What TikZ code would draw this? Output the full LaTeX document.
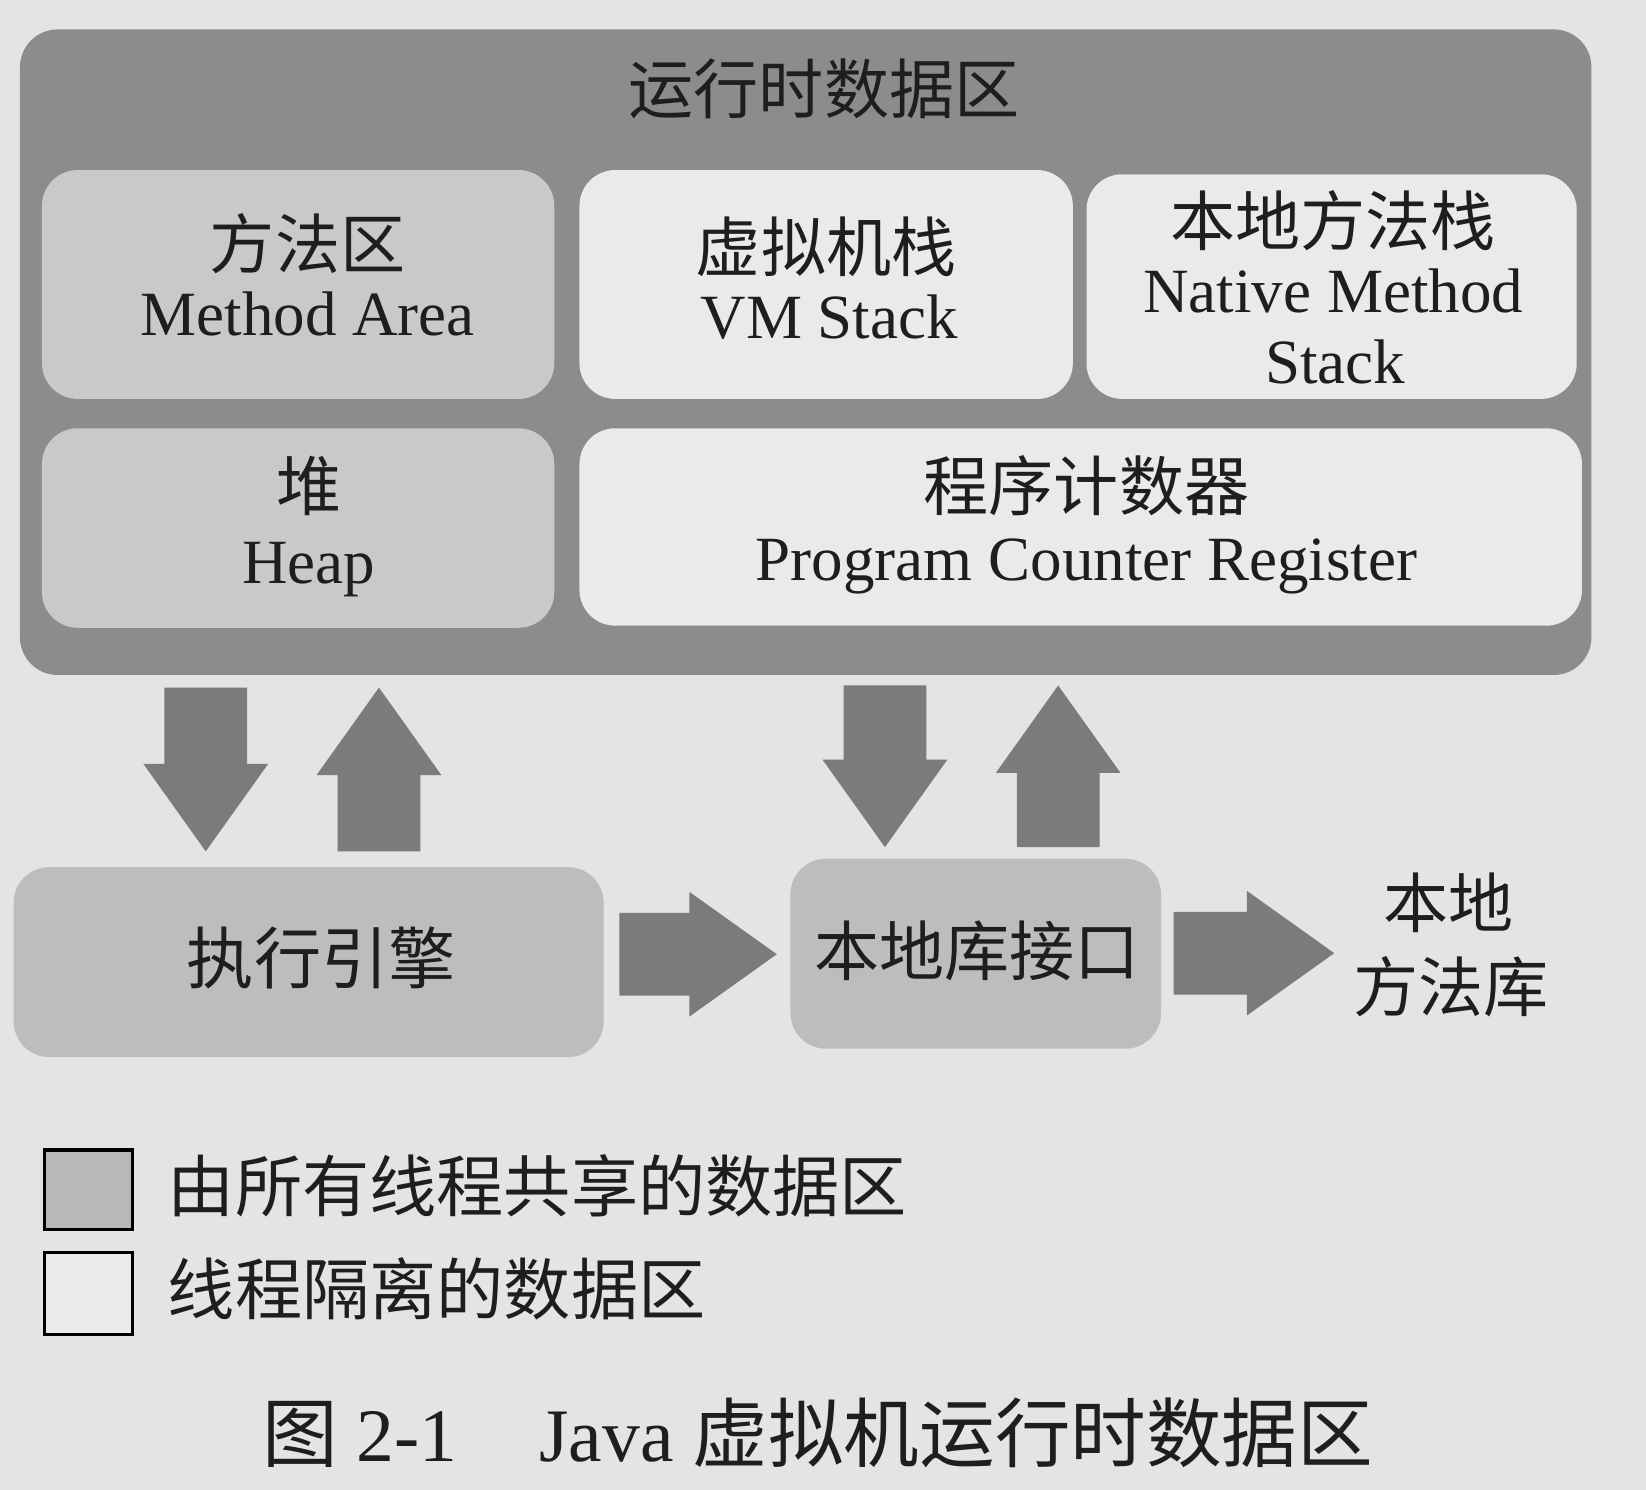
\documentclass[tikz,border=0pt]{standalone}
\usepackage{fontspec}
\setmainfont{Liberation Serif}
\newfontfamily\cjk{Noto Sans CJK SC}
\usetikzlibrary{shapes.arrows}
\definecolor{paper}{HTML}{E4E4E2}
\definecolor{outerc}{HTML}{8C8C8C}
\definecolor{sharedc}{HTML}{C9C9C9}
\definecolor{privc}{HTML}{EAEAE9}
\definecolor{enginec}{HTML}{BDBDBD}
\definecolor{arrowc}{HTML}{7B7B7B}
\definecolor{legendc}{HTML}{B8B8B8}
\definecolor{inkc}{HTML}{1E1E1E}
\begin{document}
\begin{tikzpicture}[x=0.5pt,y=-0.5pt,
  box/.style={rectangle, rounded corners=17pt, inner sep=0pt, outer sep=0pt, draw=none},
  legbox/.style={rectangle, inner sep=0pt, outer sep=0pt, draw=black, line width=1.6pt, minimum width=42pt},
  txt/.style={inner sep=0pt, outer sep=0pt, text=inkc},
  en/.style={txt, font=\fontsize{30}{36}\selectfont},
  zh/.style={txt, font=\cjk\fontsize{31}{37}\selectfont},
  zhb/.style={txt, font=\cjk\fontsize{32}{38}\selectfont},
  blk/.style={single arrow, fill=arrowc, draw=none, inner xsep=0pt, inner ysep=19.5pt,
    outer sep=0pt, single arrow head extend=10pt, single arrow tip angle=71,
    single arrow head indent=0pt, minimum width=0pt, anchor=tip}]
\fill[paper] (0,0) rectangle (1568,1419);
\useasboundingbox (0,0) rectangle (1568,1419);

% runtime data area
\node[box, fill=outerc, rounded corners=18pt, minimum width=748.5pt, minimum height=307.5pt] (rda) at (767.5,335.5) {};
\node[zh, anchor=base] (rdat) at (785,108) {运行时数据区};

\node[box, fill=sharedc, minimum width=244pt, minimum height=109pt] (ma) at (284,271) {};
\node[box, fill=privc, minimum width=235pt, minimum height=109pt] (vms) at (787,271) {};
\node[box, fill=privc, minimum width=233.5pt, minimum height=107pt] (nms) at (1268.5,273) {};
\node[box, fill=sharedc, minimum width=244pt, minimum height=95pt] (heap) at (284,503) {};
\node[box, fill=privc, minimum width=477.5pt, minimum height=94pt] (pc) at (1029.5,502) {};

\node[zh, anchor=base] (mat1) at (293,256) {方法区};
\node[en, anchor=base] (mat2) at (293,320) {Method Area};
\node[zh, anchor=base] (vmt1) at (787,259) {虚拟机栈};
\node[en, anchor=base] (vmt2) at (790,322) {VM Stack};
\node[zh, anchor=base] (nmt1) at (1270,234) {本地方法栈};
\node[en, anchor=base] (nmt2) at (1270,298) {Native Method};
\node[en, anchor=base] (nmt3) at (1272,365) {Stack};
\node[zh, anchor=base] (ht1) at (294,486) {堆};
\node[en, anchor=base] (ht2) at (294,556) {Heap};
\node[zh, anchor=base] (pct1) at (1035,486) {程序计数器};
\node[en, anchor=base] (pct2) at (1035,553) {Program Counter Register};

% execution engine and native interface
\node[box, fill=enginec, minimum width=281pt, minimum height=90.5pt] (eng) at (294,916.5) {};
\node[zhb, anchor=base] (engt) at (306,937) {执行引擎};
\node[box, fill=enginec, minimum width=176.5pt, minimum height=90.5pt] (nif) at (929.5,908.5) {};
\node[zh, anchor=base] (nift) at (931,929) {本地库接口};
\node[zh, anchor=base] (lib1) at (1380,884) {本地};
\node[zh, anchor=base] (lib2) at (1382,964) {方法库};

% block arrows (placed by their tips)
\node[blk, minimum height=78pt, rotate=-90] (a1) at (196,811) {};
\node[blk, minimum height=78pt, rotate=90] (a2) at (361,655) {};
\node[blk, minimum height=77pt, rotate=-90] (a3) at (843,807) {};
\node[blk, minimum height=77pt, rotate=90] (a4) at (1008,653) {};
\node[blk, minimum height=75pt] (a5) at (740,909) {};
\node[blk, minimum height=76.5pt] (a6) at (1271,908) {};

% legend
\node[legbox, fill=legendc, minimum height=38pt] (leg1) at (84.5,1133.5) {};
\node[zhb, anchor=base west] (leg1t) at (160,1154) {由所有线程共享的数据区};
\node[legbox, fill=privc, minimum height=39pt] (leg2) at (84.5,1232) {};
\node[zhb, anchor=base west] (leg2t) at (160,1252) {线程隔离的数据区};

% caption
\node[txt, anchor=base west, font=\fontsize{36}{42}\selectfont] (cap) at (250,1392)
  {{\cjk 图} 2-1\hspace{39pt}Java {\cjk 虚拟机运行时数据区}};
\end{tikzpicture}
\end{document}
